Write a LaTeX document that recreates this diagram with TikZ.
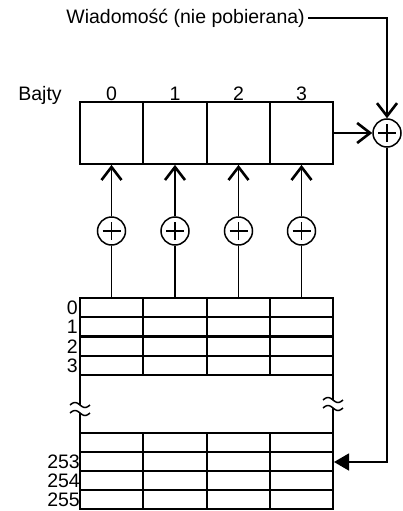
\documentclass[tikz,border=0pt]{standalone}
\usepackage{fontspec}
\setmainfont{Liberation Sans}
\usetikzlibrary{arrows.meta}
\begin{document}
\begin{tikzpicture}[x=1pt,y=-1pt,
  conn/.style={line width=1.5pt},
  vhead/.style={-{Straight Barb[length=13pt,width=20pt,line width=2.6pt]}},
  fhead/.style={-{Triangle[length=15pt,width=17pt]}},
  xorc/.style={circle,draw,line width=1.5pt,minimum size=28pt,inner sep=0pt},
  cell/.style={draw,line width=1.8pt,minimum height=62pt,inner sep=0pt},
  lbl/.style={font=\fontsize{19.5}{22}\selectfont,inner sep=0pt},
  rowlbl/.style={font=\fontsize{19.5}{20}\selectfont,inner sep=0pt,anchor=east},
  hline/.style={line width=2.4pt},
  vline/.style={line width=2pt},
  sline/.style={line width=1.5pt},
  wave/.style={line width=1.5pt}]
\useasboundingbox (0,0) rectangle (402,511);

% message
\node[lbl,anchor=east] (msg) at (305,18) {Wiadomość (nie pobierana)};
\node[lbl,anchor=base] (bajty) at (40,100) {Bajty};

% register cells
\foreach \i/\x/\w in {0/111.5/63pt,1/175/64pt,2/238.5/63pt,3/301.5/63pt}{
  \node[cell,minimum width=\w] (r\i) at (\x,133) {};
  \node[lbl,anchor=base] (d\i) at (\x,100) {\i};
  \node[xorc] (x\i) at (\x,231) {};
  \draw[line width=1.4pt] ([xshift=-9pt]x\i.center) -- ([xshift=9pt]x\i.center);
  \draw[line width=1.4pt] ([yshift=-9pt]x\i.center) -- ([yshift=9pt]x\i.center);
  \coordinate (t\i) at (\x,298);
  \draw[conn,vhead] (x\i.north) -- (r\i.south);
  \draw[conn] (t\i) -- (x\i.south);
}

% right xor
\node[xorc] (xr) at (387,133) {};
\draw[line width=1.4pt] ([xshift=-9pt]xr.center) -- ([xshift=9pt]xr.center);
\draw[line width=1.4pt] ([yshift=-9pt]xr.center) -- ([yshift=9pt]xr.center);
\coordinate (mstart) at (308,18);
\draw[conn,vhead] (mstart) -| (xr.north);
\draw[conn,vhead] (r3.east) -- (xr.west);
\coordinate (tin) at (334,462);
\draw[conn,fhead] (xr.south) |- (tin);

% table top section
\foreach \y in {298,317,336.5,356,375}{
  \draw[hline] (79,\y) -- (334,\y);
}
\foreach \x in {143,207,270}{
  \draw[vline] (\x,298) -- (\x,375);
  \draw[vline] (\x,433) -- (\x,509);
}
\draw[vline] (80,297) -- (80,375);
\draw[vline] (333,297) -- (333,375);
% table bottom section
\foreach \y in {433,452,471,490,509}{
  \draw[hline] (79,\y) -- (334,\y);
}
\draw[vline] (80,433) -- (80,510);
\draw[vline] (333,433) -- (333,510);

% broken sides
\draw[sline] (80,375) -- (80,405);
\draw[sline] (80,413) -- (80,433);
\draw[wave] plot[domain=0:1,samples=25] ({70+20*\x},{405-2.5*sin(360*\x)});
\draw[wave] plot[domain=0:1,samples=25] ({70+20*\x},{413-2.5*sin(360*\x)});
\draw[sline] (333,375) -- (333,400);
\draw[sline] (333,408) -- (333,433);
\draw[wave] plot[domain=0:1,samples=25] ({323+20*\x},{400-2.5*sin(360*\x)});
\draw[wave] plot[domain=0:1,samples=25] ({323+20*\x},{408-2.5*sin(360*\x)});

% row labels
\node[rowlbl] (l0) at (78,307.5) {0};
\node[rowlbl] (l1) at (78,326.8) {1};
\node[rowlbl] (l2) at (78,346.2) {2};
\node[rowlbl] (l3) at (78,365.5) {3};
\node[rowlbl] (l253) at (80,461.5) {253};
\node[rowlbl] (l254) at (80,480.5) {254};
\node[rowlbl] (l255) at (80,499.5) {255};
\end{tikzpicture}
\end{document}
